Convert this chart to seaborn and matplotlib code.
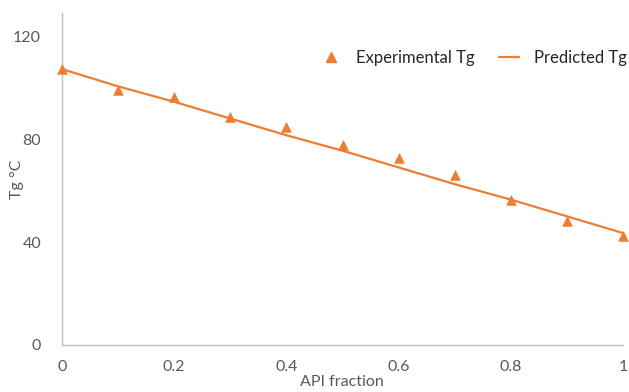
import matplotlib
matplotlib.use("Agg")
import matplotlib.pyplot as plt
import seaborn as sns
import pandas as pd
from matplotlib.lines import Line2D

api_fraction = [0.0, 0.1, 0.2, 0.3, 0.4, 0.5, 0.6, 0.7, 0.8, 0.9, 1.0]
experimental_tg = [107.2, 99.2, 96.3, 88.5, 84.7, 77.7, 72.6, 66.0, 56.3, 48.2, 42.3]
predicted_tg = [107.2, 100.5, 94.5, 88.0, 81.5, 75.5, 69.0, 62.5, 56.5, 50.0, 43.5]
x_ticks = [0, 0.2, 0.4, 0.6, 0.8, 1]
x_tick_labels = ["0", "0.2", "0.4", "0.6", "0.8", "1"]
y_ticks = [0, 40, 80, 120]
y_tick_labels = ["0", "40", "80", "120"]

df = pd.DataFrame({"API fraction": api_fraction,
                   "Experimental Tg": experimental_tg,
                   "Predicted Tg": predicted_tg})

sns.set_style("white")
plt.rcParams["font.family"] = ["Lato", "DejaVu Sans"]

ORANGE = "#ED7D31"
GRAY_AXIS = "#BFBFBF"
GRAY_TEXT = "#595959"

fig = plt.figure(figsize=(6.29, 3.92), dpi=100)
ax = fig.add_axes([62/629, 1-345/392, (623-62)/629, (345-13)/392])

sns.lineplot(data=df, x="API fraction", y="Predicted Tg", ax=ax,
             color=ORANGE, linewidth=1.6, zorder=2)
sns.scatterplot(data=df, x="API fraction", y="Experimental Tg", ax=ax,
                color=ORANGE, marker="^", s=48, edgecolor=ORANGE,
                linewidth=0.5, zorder=3, clip_on=False)

ax.set_xlim(0, 1)
ax.set_ylim(0, 129)
ax.set_xticks(x_ticks)
ax.set_xticklabels(x_tick_labels)
ax.set_yticks(y_ticks)
ax.set_yticklabels(y_tick_labels)
ax.tick_params(axis="both", length=0, labelsize=11.5, labelcolor=GRAY_TEXT)
ax.tick_params(axis="x", pad=11)
ax.tick_params(axis="y", pad=15)

for side in ["top", "right"]:
    ax.spines[side].set_visible(False)
for side in ["left", "bottom"]:
    ax.spines[side].set_color(GRAY_AXIS)
    ax.spines[side].set_linewidth(1.0)

ax.set_xlabel("API fraction", fontsize=11.5, color=GRAY_TEXT)
ax.set_ylabel("Tg °C", fontsize=11.5, color=GRAY_TEXT)
ax.xaxis.set_label_coords((342-62)/561, -(375-345)/332)
ax.yaxis.set_label_coords((24-62)/561, 0.5)

handles = [
    Line2D([], [], linestyle="none", marker="^", color=ORANGE, markersize=7),
    Line2D([], [], color=ORANGE, linewidth=1.6),
]
leg = fig.legend(handles, ["Experimental Tg", "Predicted Tg"],
                 loc="center right", bbox_to_anchor=(627/629, 1-58/392),
                 ncol=2, frameon=False, fontsize=12,
                 handlelength=1.2, handletextpad=0.9, columnspacing=1.5,
                 borderpad=0, borderaxespad=0)
for t in leg.get_texts():
    t.set_color("#262626")

fig.savefig("out.png", dpi=100)
